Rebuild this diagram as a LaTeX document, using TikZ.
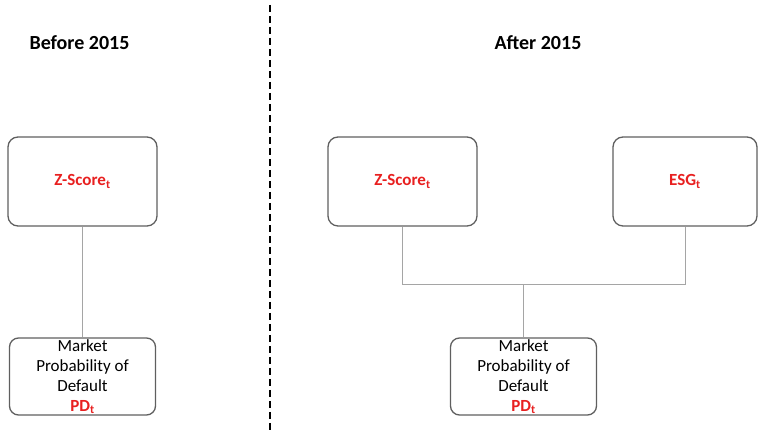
\documentclass[tikz,border=0pt]{standalone}
\usepackage{fontspec}
\setmainfont{Carlito}
\usepackage{xcolor}
\definecolor{boxgray}{RGB}{95,95,95}
\definecolor{linkgray}{RGB}{165,165,165}
\definecolor{varred}{RGB}{232,32,32}
\newcommand{\redvar}[2]{\textcolor{varred}{\textbf{#1\textsubscript{#2}}}}
\newcommand{\widthbox}{149pt}
\newcommand{\heightbox}{89pt}
\tikzset{
    box/.style={draw=boxgray, line width=1.3pt, rounded corners=10pt, minimum width=\widthbox, minimum height=\heightbox, inner sep=0pt},
    input/.style={box, font=\fontsize{17}{20}\selectfont},
    output/.style={box, minimum width=146pt, minimum height=77pt, align=center, font=\fontsize{17}{20}\selectfont, rounded corners=9pt},
    link/.style={draw=linkgray, line width=1pt},
    heading/.style={font=\fontsize{20}{24}\selectfont\bfseries},
    divider/.style={line width=1.8pt, dash pattern=on 7pt off 4pt}
}
\begin{document}
\begin{tikzpicture}[x=1pt, y=1pt]
      \useasboundingbox (0,0) rectangle (758,430);

      % headings and divider
      \node[heading] (before) at (79.5,387) {Before 2015};
      \node[heading] (after) at (538,387) {After 2015};
      \coordinate (div-top) at (270,425);
      \coordinate (div-bottom) at (270,0);
      \draw[divider] (div-top) -- (div-bottom);

      % before 2015
      \node[input] (zL) at (82.5,248.5) {\redvar{Z-Score}{t}};
      \node[output] (pdL) at (82.5,53.5) {Market\\Probability of\\Default\\\redvar{PD}{t}};

      % after 2015
      \node[input] (zR) at (402.5,248.5) {\redvar{Z-Score}{t}};
      \node[input, minimum width=144pt] (esg) at (685,248.5) {\redvar{ESG}{t}};
      \node[output] (pdR) at (523.5,53.5) {Market\\Probability of\\Default\\\redvar{PD}{t}};

      \draw[link] (zL) -- (pdL);
      \draw[link] (zR.south) -- ++(0,-58) coordinate (bar) -| (esg.south);
      \draw[link] (pdR.north) -- (pdR.north |- bar);

    \end{tikzpicture}
\end{document}
